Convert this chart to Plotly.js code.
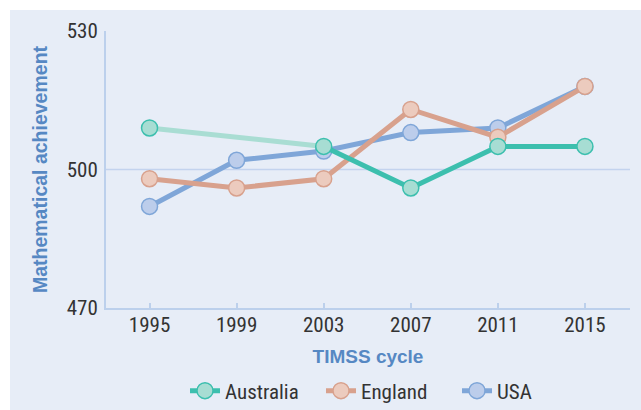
<!DOCTYPE html>
<html><head><meta charset="utf-8">
<script src="https://cdn.plot.ly/plotly-3.0.1.min.js"></script>
<style>html,body{margin:0;padding:0;background:#fff}#chart{width:641px;height:410px}</style>
</head><body><div id="chart"></div>
<script>
const years = [1995, 1999, 2003, 2007, 2011, 2015];
const australia = [509, null, 505, 496, 505, 505];
const england = [498, 496, 498, 513, 507, 518];
const usa = [492, 502, 504, 508, 509, 518];
const yTicks = [470, 500, 530];

const NARROW = '"Liberation Sans Narrow", "Arial Narrow", "Roboto Condensed", sans-serif';
const TITLEF = '"Liberation Sans", Arial, sans-serif';
const panel = '#e7edf7';
const titleCol = '#5688c3';

function series(name, y, lineCol, fill, rank) {
  return {
    x: years, y: y, name: name, type: 'scatter', mode: 'lines+markers',
    connectgaps: false, legendrank: rank,
    line: {color: lineCol, width: 5},
    marker: {size: 16, color: fill, line: {color: lineCol, width: 1.5}}
  };
}

// faded Australia link across the missing 1999 cycle
const ausFadeX = years.filter((d, i) => australia[i] !== null).slice(0, 2);
const ausFadeY = australia.filter(v => v !== null).slice(0, 2);

const data = [
  {x: ausFadeX, y: ausFadeY, type: 'scatter', mode: 'lines', showlegend: false,
   hoverinfo: 'skip', line: {color: '#a9ddd3', width: 5}},
  series('USA', usa, '#7fa6d8', '#bccdeb', 3),
  series('England', england, '#d8a18d', '#eccbbe', 2),
  series('Australia', australia, '#3cbfae', '#a7ddd3', 1)
];

const layout = {
  width: 641, height: 410,
  paper_bgcolor: '#ffffff', plot_bgcolor: 'rgba(0,0,0,0)',
  margin: {l: 106, r: 11, t: 31, b: 102},
  font: {family: NARROW, size: 21, color: '#333333'},
  showlegend: true,
  legend: {orientation: 'h', xref: 'container', yref: 'container',
           x: (190 - 5) / 641, xanchor: 'left', y: (410 - 391) / 410, yanchor: 'middle',
           bgcolor: 'rgba(0,0,0,0)', font: {family: NARROW, size: 21, color: '#333333'},
           itemwidth: 30, entrywidth: 91},
  xaxis: {
    range: [1993, 2017.07], tickvals: years, ticktext: years.map(String),
    showgrid: false, zeroline: false, showline: true, linecolor: '#bcd0ec', linewidth: 2,
    ticks: 'inside', ticklen: 5, tickwidth: 2, tickcolor: '#bcd0ec',
    ticklabelstandoff: -3, automargin: false,
    tickfont: {family: NARROW, size: 21, color: '#333333'},
    title: {text: '<b>TIMSS cycle</b>', standoff: 13,
            font: {family: TITLEF, size: 19, color: titleCol}}
  },
  yaxis: {
    range: [470, 530], tickvals: yTicks, ticktext: yTicks.map(String),
    showgrid: false, zeroline: false, showline: true, linecolor: '#bcd0ec', linewidth: 2,
    ticks: '', ticklabelstandoff: 2, automargin: false,
    tickfont: {family: NARROW, size: 21, color: '#333333'},
    title: {text: '<b>Mathematical achievement</b>', standoff: 14,
            font: {family: TITLEF, size: 19.5, color: titleCol}}
  },
  shapes: [
    {type: 'rect', xref: 'paper', yref: 'paper', layer: 'below',
     x0: (10 - 106) / 524, x1: 1.05, y0: -0.4, y1: (308 - 10) / 277,
     fillcolor: panel, line: {width: 0}},
    {type: 'line', xref: 'paper', yref: 'y', layer: 'below',
     x0: 0, x1: 1, y0: 500, y1: 500, line: {color: '#c3d3ee', width: 1.5}}
  ]
};

Plotly.newPlot('chart', data, layout, {displayModeBar: false, staticPlot: true});
</script></body></html>
